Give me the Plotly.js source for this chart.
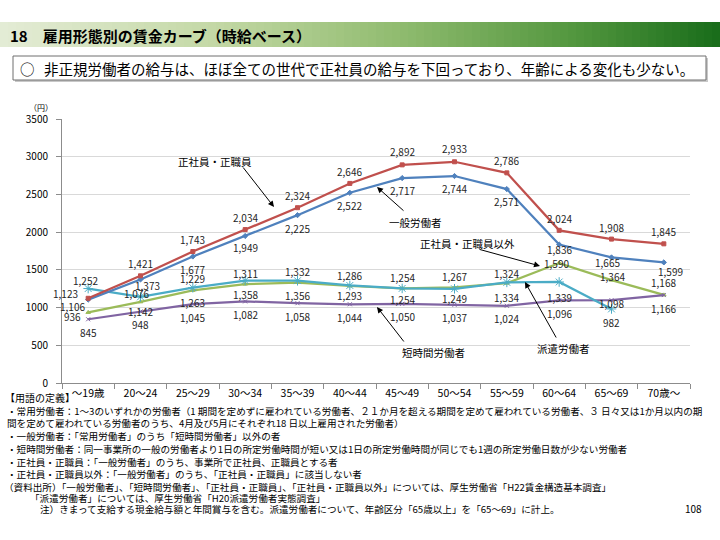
<!DOCTYPE html>
<html><head><meta charset="utf-8">
<script src="https://cdn.plot.ly/plotly-3.0.1.min.js"></script>
<style>html,body{margin:0;padding:0;background:#fff}#chart{width:720px;height:540px}</style>
</head><body><div id="chart"></div>
<script>
// ---- data ----
const categories = ['～19歳','20～24','25～29','30～34','35～39','40～44','45～49','50～54','55～59','60～64','65～69','70歳～'];
const seishain   = [1123,1421,1743,2034,2324,2646,2892,2933,2786,2024,1908,1845]; // 正社員・正職員
const ippan      = [1106,1373,1677,1949,2225,2522,2717,2744,2571,1836,1665,1599]; // 一般労働者
const seiIgai    = [936,1076,1229,1311,1332,1286,1254,1267,1324,1590,1364,1168];  // 正社員・正職員以外
const tanjikan   = [845,948,1045,1082,1058,1044,1050,1037,1024,1096,1098,1166];   // 短時間労働者
const haken      = [1252,1142,1263,1358,1356,1293,1254,1249,1334,1339,982,null];  // 派遣労働者
const yTicks = [0,500,1000,1500,2000,2500,3000,3500];

// ---- label placement (pixel offsets dx, dy-down) ----
const offRed    = [[-23,-5],[0,-12],[0,-12],[0,-12],[0,-12],[0,-12],[0,-13],[0,-13],[0,-12],[0,-12],[0,-12],[0,-12]];
const offBlue   = [[-16,7],[7,6],[0,13],[0,12],[0,13],[0,13],[0,12],[0,12],[0,12],[0,5],[-4,5],[7,9]];
const offGreen  = [[-16,4],[-4,-8],[0,-12],[0,-11],[0,-11],[0,-11],[0,-11],[0,-11],[0,-10],[-3,0],[1,-4],[0,-12]];
const offCyan   = [[-3,-8],[0,15],[0,15],[0,14],[0,15],[0,10],[0,11],[0,10],[0,15],[0,15],[0,14],null];
const offPurple = [[0,13],[0,13],[0,13],[0,13],[0,13],[0,13],[0,13],[0,13],[0,13],[0,13],[0,3],[0,13]];

const FONT = 'Noto Sans CJK JP, Noto Sans, sans-serif';
const L=62, R=690, T=119, B=383;
const px = x => (x-L)/(R-L);
const py = y => (B-y)/(B-T);

function series(name, y, color, sym, size){
  return {type:'scatter', mode:'lines+markers', name, x:categories, y,
    line:{color, width:2.25}, marker:{symbol:sym, size, color, line:{color, width:1}},
    cliponaxis:false, hoverinfo:'skip'};
}
const traces = [
  series('正社員・正職員以外', seiIgai, '#9BBB59', 'triangle-up', 4),
  series('短時間労働者', tanjikan, '#8064A2', 'x-thin-open', 4),
  series('派遣労働者', haken, '#4BACC6', 'asterisk-open', 8),
  series('一般労働者', ippan, '#4F81BD', 'diamond', 4),
  series('正社員・正職員', seishain, '#C0504D', 'square', 4)
];

const ann = [];
function labels(vals, offs){
  vals.forEach((v,i)=>{
    if(v==null) return;
    ann.push({xref:'x', yref:'y', x:categories[i], y:v, text:v.toLocaleString('en-US'),
      showarrow:false, xshift:offs[i][0], yshift:-offs[i][1], font:{family:FONT,size:10,color:'#262626'}});
  });
}
labels(seishain, offRed); labels(ippan, offBlue); labels(seiIgai, offGreen);
labels(haken, offCyan); labels(tanjikan, offPurple);

function txt(x, y, text, size, opts){
  ann.push(Object.assign({xref:'paper', yref:'paper', x:px(x), y:py(y), text, showarrow:false,
    xanchor:'center', yanchor:'middle', font:{family:FONT, size, color:'#000'}}, opts||{}));
}
function arrow(hx, hy, tx, ty){
  ann.push({xref:'paper', yref:'paper', x:px(hx), y:py(hy), ax:tx-hx, ay:ty-hy, text:'',
    showarrow:true, arrowhead:2, arrowsize:1.2, arrowwidth:1, arrowcolor:'#000', standoff:0, startstandoff:0});
}
// series callouts
txt(215,161,'正社員・正職員',10.5);
txt(415,222,'一般労働者',10.5);
txt(467,243,'正社員・正職員以外',10.5);
txt(433,352,'短時間労働者',10.5);
txt(563,348,'派遣労働者',10.5);
arrow(274,207,242,166);
arrow(377,187,405,212);
arrow(540,266,478,249);
arrow(377,307,405,343);
arrow(525,282,557,339);

// unit
txt(41,107,'（円）',8);

// title + box text
txt(8,35,'<b>18　雇用形態別の賃金カーブ（時給ベース）</b>',15,{xanchor:'left'});
txt(27,68,'○',14.5);
txt(42,68,'非正規労働者の給与は、ほぼ全ての世代で正社員の給与を下回っており、年齢による変化も少ない。',14.5,{xanchor:'left'});

// notes
txt(3,397,'【用語の定義】',10,{xanchor:'left'});
const notes = [
  [5,411,'・常用労働者：1～3のいずれかの労働者（1 期間を定めずに雇われている労働者、２１か月を超える期間を定めて雇われている労働者、３ 日々又は1か月以内の期'],
  [5,423,'間を定めて雇われている労働者のうち、4月及び5月にそれぞれ18 日以上雇用された労働者）'],
  [5,436,'・一般労働者：「常用労働者」のうち「短時間労働者」以外の者'],
  [5,449,'・短時間労働者：同一事業所の一般の労働者より1日の所定労働時間が短い又は1日の所定労働時間が同じでも1週の所定労働日数が少ない労働者'],
  [5,462,'・正社員・正職員：「一般労働者」のうち、事業所で正社員、正職員とする者'],
  [5,474,'・正社員・正職員以外：「一般労働者」のうち、「正社員・正職員」に該当しない者'],
  [2,487,'（資料出所）「一般労働者」、「短時間労働者」、「正社員・正職員」、「正社員・正職員以外」については、厚生労働省「H22賃金構造基本調査」'],
  [28,498,'「派遣労働者」については、厚生労働省「H20派遣労働者実態調査」'],
  [38,509,'注）きまって支給する現金給与額と年間賞与を含む。派遣労働者について、年齢区分「65歳以上」を「65～69」に計上。']
];
notes.forEach(n=>txt(n[0],n[1],n[2],9.6,{xanchor:'left'}));
txt(693,508,'108',10);

// shapes: gradient title band + text box
const shapes = [];
const stops = [[0,[228,236,214]],[0.3,[195,216,165]],[0.55,[145,188,112]],[0.8,[82,150,62]],[1,[24,108,26]]];
function col(t){
  for(let k=0;k<stops.length-1;k++){
    const [a,ca]=stops[k],[b,cb]=stops[k+1];
    if(t<=b){const f=(t-a)/(b-a);return 'rgb('+ca.map((c,j)=>Math.round(c+(cb[j]-c)*f)).join(',')+')';}
  }
  return 'rgb(24,108,26)';
}
const N=90;
for(let k=0;k<N;k++){
  const x0=k*720/N, x1=(k+1)*720/N+0.6;
  shapes.push({type:'rect', xref:'paper', yref:'paper', x0:px(x0), x1:px(x1), y0:py(47), y1:py(22),
    fillcolor:col((k+0.5)/N), line:{width:0}, layer:'below'});
}
shapes.push({type:'rect', xref:'paper', yref:'paper', x0:px(15), x1:px(708), y0:py(82), y1:py(58),
  fillcolor:'#c8c8c8', line:{width:0}, layer:'below'});
shapes.push({type:'rect', xref:'paper', yref:'paper', x0:px(13), x1:px(706), y0:py(80), y1:py(56),
  fillcolor:'#ffffff', line:{color:'#6e6e6e', width:1}, layer:'below'});

const layout = {
  width:720, height:540, margin:{l:L, r:720-R, t:T, b:540-B},
  paper_bgcolor:'#fff', plot_bgcolor:'rgba(0,0,0,0)', showlegend:false,
  font:{family:FONT, size:10, color:'#000'},
  xaxis:{type:'category', categoryarray:categories, range:[-0.5,11.5], showgrid:false,
    showline:true, linecolor:'#8c8c8c', linewidth:1, ticks:'outside', tickson:'boundaries',
    ticklen:5, tickcolor:'#8c8c8c', tickfont:{family:FONT,size:10.5,color:'#000'}, fixedrange:true, zeroline:false},
  yaxis:{range:[0,3500], tickvals:yTicks, ticktext:yTicks.map(String), showgrid:true, gridcolor:'#d9d9d9', gridwidth:1,
    showline:true, linecolor:'#8c8c8c', ticks:'outside', ticklen:5, tickcolor:'#8c8c8c',
    ticklabelstandoff:6, tickfont:{family:FONT,size:10,color:'#000'}, zeroline:false, fixedrange:true},
  annotations:ann, shapes
};
Plotly.newPlot('chart', traces, layout, {staticPlot:true, displayModeBar:false});
</script></body></html>
